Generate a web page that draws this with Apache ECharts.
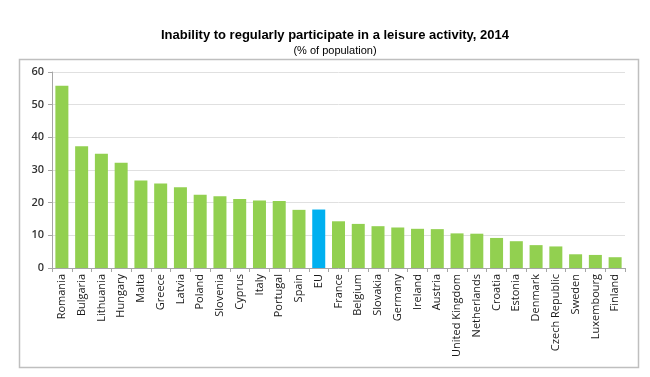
<!DOCTYPE html>
<html>
<head>
<meta charset="utf-8">
<script src="https://cdn.jsdelivr.net/npm/echarts@6/dist/echarts.min.js"></script>
<style>
  html, body { margin: 0; padding: 0; background: #fff; }
  #main { width: 650px; height: 377px; }
</style>
</head>
<body>
<div id="main"></div>
<script>
// countries, sorted as in the source
var countries = ['Romania', 'Bulgaria', 'Lithuania', 'Hungary', 'Malta', 'Greece', 'Latvia',
  'Poland', 'Slovenia', 'Cyprus', 'Italy', 'Portugal', 'Spain', 'EU', 'France', 'Belgium',
  'Slovakia', 'Germany', 'Ireland', 'Austria', 'United Kingdom', 'Netherlands', 'Croatia',
  'Estonia', 'Denmark', 'Czech Republic', 'Sweden', 'Luxembourg', 'Finland'];
var shares = [55.8, 37.3, 35.0, 32.2, 26.8, 25.9, 24.7, 22.4, 22.0, 21.1, 20.7, 20.5, 17.8,
  17.9, 14.3, 13.5, 12.8, 12.4, 12.0, 11.9, 10.6, 10.5, 9.2, 8.2, 7.0, 6.6, 4.2, 4.0, 3.3];
var yTicks = [0, 10, 20, 30, 40, 50, 60];

var chart = echarts.init(document.getElementById('main'));

var option = {
  animation: false,
  title: [{
    text: 'Inability to regularly participate in a leisure activity, 2014',
    left: 330, top: 24, textAlign: 'center',
    textStyle: { fontFamily: 'Liberation Sans', fontSize: 13, fontWeight: 'bold', color: '#000' }
  }, {
    text: '(% of population)',
    left: 330, top: 40, textAlign: 'center',
    textStyle: { fontFamily: 'Liberation Sans', fontSize: 11, fontWeight: 'normal', color: '#000' }
  }],
  graphic: [{
    type: 'rect',
    shape: { x: 19.5, y: 59.5, width: 619, height: 308 },
    style: { fill: 'none', stroke: '#bfbfbf', lineWidth: 1.5 },
    z: -1
  }],
  grid: { left: 52, right: 25, top: 72, bottom: 109 },
  xAxis: {
    type: 'category',
    data: countries,
    axisLine: { lineStyle: { color: '#a6a6a6' } },
    axisTick: { show: true, length: 4, lineStyle: { color: '#a6a6a6' } },
    axisLabel: {
      rotate: 90, interval: 0, margin: 6,
      fontFamily: 'Open Sans', fontSize: 11, color: '#1a1a1a'
    }
  },
  yAxis: {
    type: 'value',
    min: yTicks[0], max: yTicks[yTicks.length - 1], interval: 10,
    axisLine: { show: true, lineStyle: { color: '#a6a6a6' } },
    axisTick: { show: true, length: 4, lineStyle: { color: '#a6a6a6' } },
    splitLine: { lineStyle: { color: '#e0e0e0' } },
    axisLabel: { fontFamily: 'Open Sans', fontSize: 11, fontWeight: 600, color: '#333', margin: 8 }
  },
  series: [{
    type: 'bar',
    barWidth: 13,
    data: shares.map(function (v, i) {
      return {
        value: v,
        itemStyle: { color: countries[i] === 'EU' ? '#00b0f0' : '#92d050' }
      };
    })
  }]
};

chart.setOption(option);
</script>
</body>
</html>
